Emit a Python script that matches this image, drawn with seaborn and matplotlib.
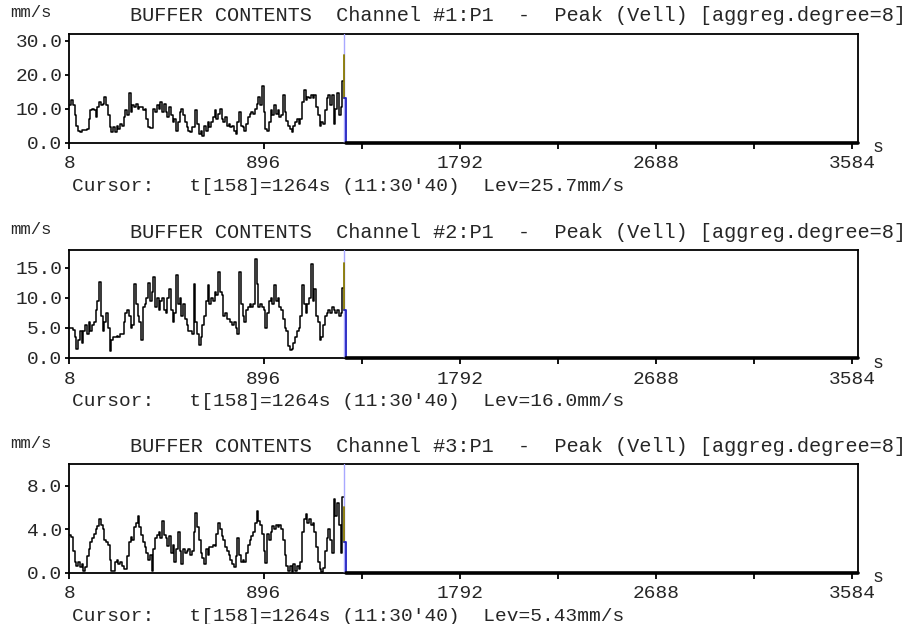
import matplotlib
matplotlib.use("Agg")
import matplotlib.pyplot as plt
import seaborn as sns
import numpy as np
import pandas as pd

# ---------------- data ----------------
step_s = 8  # aggregation: one value every 8 s, t[i] = 8*i

ch1_values = [11, 12.5, 11, 8, 5, 3.5, 3, 3.8, 3.8, 3.8, 4, 7, 9.5, 10, 9.5, 7.5, 10.5, 12, 11, 11.5,
              13.5, 11, 8, 4.5, 3, 4.5, 3, 5, 4, 5.5, 5, 7.5, 9.5, 8, 14.5, 9, 11, 10.5, 11.5, 10,
              10.5, 10.5, 9.5, 10, 7, 4.5, 4.3, 4.3, 10, 9, 11, 10, 12, 9, 11.5, 9, 7.5, 10.5, 8, 6,
              7, 3.5, 6, 9, 10, 8, 6, 4.5, 3.5, 3, 4.5, 4.5, 9.5, 5.5, 2.5, 3.5, 2, 5, 3.5, 6,
              4.5, 6, 7.5, 9.5, 7, 8.5, 10, 7, 6, 7.5, 5, 5.5, 4.5, 5, 3.5, 2.5, 6, 9, 5, 4.5,
              3.5, 5.5, 7.5, 8.5, 9, 8.5, 10, 11.5, 13.5, 11, 16.5, 9, 4, 3.5, 6, 9.5, 8, 11, 8.5, 9.5,
              7.5, 8, 14, 9, 6.5, 5, 4, 3, 5, 6, 7, 5.5, 7, 12, 15.5, 12.5, 13.5, 13, 14, 13,
              14, 10.5, 8, 5, 6, 5.5, 9.5, 13, 14, 11, 14, 5.5, 10, 14.5, 8, 10.5, 18]

ch2_values = [5.0, 5.0, 4.7, 3.5, 1.5, 3.0, 4.5, 2.5, 4.5, 5.5, 4.0, 6.0, 4.5, 5.5, 6.0, 8.0, 9.5, 12.7, 7.0, 4.5,
              6.0, 7.5, 5.0, 1.2, 3.0, 3.5, 3.5, 3.7, 3.5, 4.0, 4.0, 6.0, 7.5, 8.0, 7.0, 5.0, 5.5, 12.4, 9.0, 7.0,
              6.0, 3.0, 8.5, 9.0, 10.0, 12.5, 9.5, 11.0, 13.5, 8.5, 10.0, 8.0, 9.5, 10.0, 8.0, 7.5, 10.0, 11.5, 8.0, 6.0,
              7.5, 13.8, 9.0, 10.0, 7.0, 9.0, 6.5, 5.5, 4.5, 4.5, 4.0, 12.4, 6.0, 4.0, 2.2, 3.5, 5.5, 7.0, 9.5, 12.2,
              9.0, 10.0, 9.5, 11.0, 10.5, 14.3, 11.0, 10.5, 7.0, 7.5, 6.5, 6.5, 6.0, 5.5, 6.0, 5.0, 4.0, 14.3, 9.0, 7.0,
              6.0, 8.0, 8.5, 9.0, 8.5, 9.0, 16.5, 12.4, 8.5, 9.0, 8.5, 8.0, 5.0, 7.5, 9.5, 10.0, 9.0, 12.2, 9.5, 10.0,
              8.5, 8.0, 6.5, 5.0, 4.5, 2.0, 1.3, 1.5, 2.5, 3.5, 4.5, 5.0, 7.0, 12.2, 9.0, 7.5, 9.0, 10.0, 15.7, 9.5,
              11.5, 7.0, 6.0, 3.0, 3.5, 5.5, 7.0, 7.5, 8.0, 7.5, 8.5, 8.0, 7.5, 8.0, 7.0, 7.5, 11.6]

ch3_values = [3.5, 3.3, 2.0, 1.0, 0.6, 1.0, 0.5, 0.8, 0.2, 0.5, 1.5, 2.2, 2.8, 3.2, 3.6, 4.0, 4.3, 5.0, 4.4, 4.0,
              3.0, 2.8, 2.6, 1.2, 0.2, 0.2, 1.0, 1.2, 0.8, 1.0, 0.6, 0.3, 0.3, 1.5, 2.8, 3.3, 3.0, 4.2, 4.6, 5.2,
              4.2, 3.5, 2.8, 2.4, 1.8, 1.2, 1.6, 0.2, 2.2, 3.2, 3.5, 3.8, 3.2, 4.8, 3.5, 3.2, 2.5, 3.4, 1.8, 2.6,
              1.0, 2.2, 3.8, 2.0, 0.8, 2.2, 1.8, 2.0, 2.2, 1.6, 2.0, 3.8, 5.5, 4.2, 3.0, 1.8, 1.4, 0.8, 2.2, 1.6,
              2.4, 2.4, 2.6, 2.5, 3.6, 4.6, 4.0, 3.4, 3.0, 2.4, 2.0, 1.6, 1.2, 0.8, 0.5, 1.5, 3.2, 1.6, 1.0, 1.2,
              1.0, 1.8, 2.6, 3.0, 3.4, 3.8, 4.6, 5.7, 4.8, 4.4, 3.6, 2.0, 0.9, 3.6, 3.0, 3.8, 4.3, 4.0, 4.4, 4.2,
              4.4, 4.0, 3.0, 1.6, 0.6, 0.2, 0.6, 0.1, 0.8, 0.2, 0.6, 0.3, 1.0, 3.8, 5.0, 5.4, 4.6, 5.0, 4.4, 4.6,
              3.8, 2.4, 1.0, 0.3, 0.1, 0.4, 2.0, 3.2, 4.0, 3.0, 1.8, 6.8, 5.2, 6.4, 4.4, 1.8, 7.0]

cursor_t = 1264                     # t[158]
cursor_top = [25.7, 15.9, 6.1]      # top of the highlighted (olive) cursor sample
cursor_next = [13.0, 8.0, 2.8]      # value drawn just after the cursor
tail_t = [1272, 3610]               # buffer not yet filled: zero
tail_v = [0, 0]

channels = ["#1:P1", "#2:P1", "#3:P1"]
levels = ["25.7mm/s", "16.0mm/s", "5.43mm/s"]
ymaxs = [32, 18, 10]
yticks = [[0, 10, 20, 30], [0, 5, 10, 15], [0, 4, 8]]
xticks = [8, 896, 1792, 2688, 3584]
xminor = [1344, 2240, 3136]
series = [ch1_values, ch2_values, ch3_values]

# ---------------- style ----------------
sns.set_style("white")
plt.rcParams['font.family'] = ['Liberation Mono', 'DejaVu Sans Mono']

W, H = 914, 624
fig = plt.figure(figsize=(W / 100, H / 100), dpi=100)

tops = [33.7, 250.0, 464.3]
bots = [142.7, 358.0, 572.7]
left_px, right_px = 69.3, 857.7
FS = 14

for k in range(3):
    T, B = tops[k], bots[k]
    ax = fig.add_axes([left_px / W, 1 - B / H, (right_px - left_px) / W, (B - T) / H])
    vals = series[k]
    t = [step_s * (i + 1) for i in range(len(vals))]
    df = pd.DataFrame({"t": t + [cursor_t], "v": vals + [vals[-1]]})
    sns.lineplot(data=df, x="t", y="v", ax=ax, color="black", lw=1.1,
                 drawstyle="steps-post", estimator=None, sort=False)
    # cursor
    ax.axvline(cursor_t, color="#a8a8ff", lw=1.0, zorder=3)
    ax.plot([cursor_t, cursor_t], [cursor_next[k], cursor_top[k]], color="#8a7a00", lw=1.3, zorder=4)
    ax.plot([cursor_t, tail_t[0], tail_t[0]], [cursor_next[k], cursor_next[k], 0],
            color="#2020c0", lw=1.3, zorder=4)
    ax.plot(tail_t, tail_v, color="black", lw=2.6, zorder=5, clip_on=False)

    ax.set_xlim(8, 3610)
    ax.set_ylim(0, ymaxs[k])
    ax.set_xticks(xticks)
    ax.set_xticklabels([str(x) for x in xticks])
    ax.set_xticks(xminor, minor=True)
    ax.set_yticks(yticks[k])
    ax.set_yticklabels([f"{y:.1f}" for y in yticks[k]])
    ax.set_xlabel("")
    ax.set_ylabel("")
    ax.tick_params(axis="x", which="both", direction="out", length=4, width=1.3,
                   color="black", labelsize=FS, pad=5, bottom=True)
    ax.tick_params(axis="y", direction="out", length=3, width=1.3, color="black",
                   labelsize=FS, pad=2, left=True)
    for s in ax.spines.values():
        s.set_color("black")
        s.set_linewidth(1.3)

    fig.text(10 / W, 1 - (T - 21) / H, "mm/s", fontsize=FS - 1.5, va="center", ha="left")
    fig.text(130 / W, 1 - (T - 18) / H,
             f"BUFFER CONTENTS  Channel {channels[k]}  -  Peak (Vell) [aggreg.degree=8]",
             fontsize=14.6, va="center", ha="left")
    fig.text(873 / W, 1 - (B + 5) / H, "s", fontsize=FS - 1, va="center", ha="left")
    fig.text(72 / W, 1 - (B + 44) / H,
             f"Cursor:   t[158]=1264s (11:30'40)  Lev={levels[k]}",
             fontsize=FS, va="center", ha="left")

fig.savefig("out.png", dpi=100)
